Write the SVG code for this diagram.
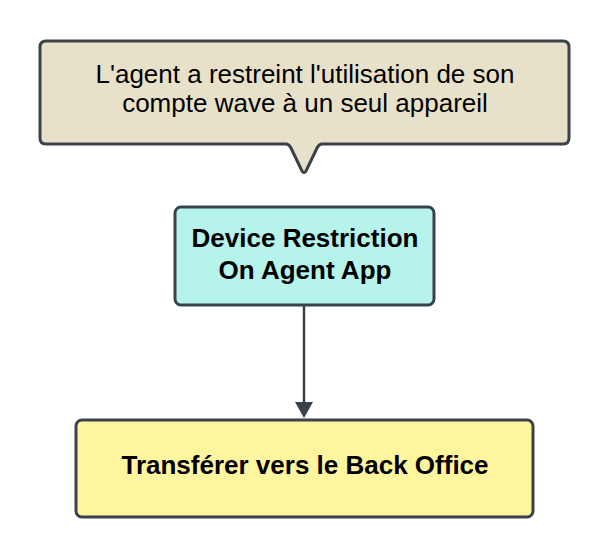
<svg xmlns="http://www.w3.org/2000/svg" width="609" height="558" viewBox="0 0 609 558">
<style>
.shape{stroke:#3a414a;stroke-width:3;stroke-linejoin:round}
.t{font-family:"Liberation Sans",Arial,sans-serif;fill:#000;text-anchor:middle}
.b{font-weight:bold;font-size:26px}
.r{font-size:26px}
</style>
<rect width="609" height="558" fill="#ffffff"/>
<g id="connectors">
<line x1="304" y1="306" x2="304" y2="402" stroke="#3a414a" stroke-width="2.5"/>
<path d="M295,402 L313,402 L304,418 Z" fill="#3a414a"/>
</g>
<g id="callout">
<path class="shape" fill="#e8e1c9" d="M46,41 H563 Q569,41 569,47 V138 Q569,144 563,144 H322 Q319,144 317,148 L306,171 Q304,174 302,171 L291,148 Q289,144 286,144 H46 Q40,144 40,138 V47 Q40,41 46,41 Z"/>
<text class="t r" x="305" y="83">L'agent a restreint l'utilisation de son</text>
<text class="t r" x="305" y="112">compte wave à un seul appareil</text>
</g>
<g id="device">
<rect class="shape" x="175" y="207" width="259" height="98" rx="6" fill="#b5f3eb"/>
<text class="t b" x="305" y="247">Device Restriction</text>
<text class="t b" x="305" y="279">On Agent App</text>
</g>
<g id="backoffice">
<rect class="shape" x="76" y="420" width="457" height="97" rx="6" fill="#fff59f"/>
<text class="t b" x="305" y="474">Transférer vers le Back Office</text>
</g>
</svg>
